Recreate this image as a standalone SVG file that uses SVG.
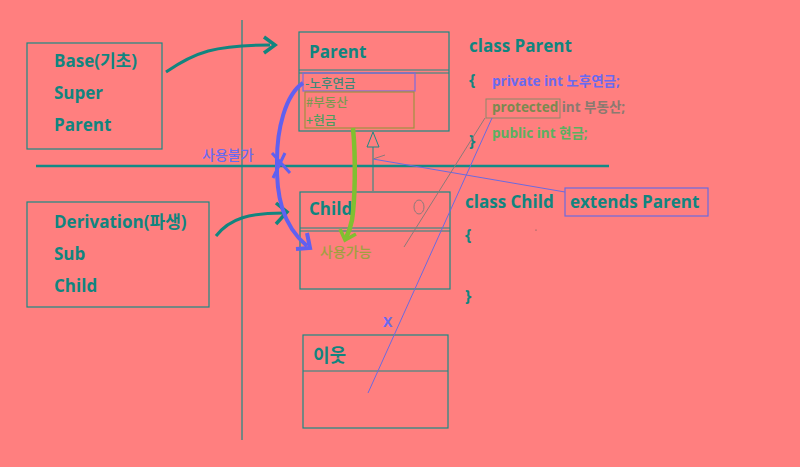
<svg xmlns="http://www.w3.org/2000/svg" width="800" height="467" viewBox="0 0 800 467">
<defs>
<style>
.t{font-family:"Open Sans","Noto Sans CJK KR",sans-serif;font-weight:bold;fill:#10857f}
.k{font-family:"Noto Sans CJK KR","Open Sans",sans-serif;font-weight:500}
.box{fill:none;stroke:#1a8a84;stroke-width:1.2}
.g{fill:none;stroke:#8a8a6a;stroke-width:1}
</style>
</defs>
<rect width="800" height="467" fill="#FF7F7F"/>
<g id="axes">
<line x1="242" y1="20" x2="242" y2="440" stroke="#1a8a84" stroke-width="1.2"/>
<line x1="36" y1="166" x2="609" y2="166" stroke="#138a86" stroke-width="2.5"/>
</g>
<g id="base">
<rect class="box" x="27" y="43" width="135" height="106"/>
<text class="t" x="54" y="67" font-size="17">Base(기초)</text>
<text class="t" x="54" y="99" font-size="17">Super</text>
<text class="t" x="54" y="131" font-size="17">Parent</text>
</g>
<g id="derivation">
<rect class="box" x="27" y="202" width="182" height="105"/>
<text class="t" x="54" y="228" font-size="17">Derivation(파생)</text>
<text class="t" x="54" y="260" font-size="17">Sub</text>
<text class="t" x="54" y="292" font-size="17">Child</text>
</g>
<g id="parent">
<rect class="box" x="299" y="32" width="150" height="99"/>
<line x1="299" y1="70" x2="449" y2="70" stroke="#1a8a84"/>
<line x1="299" y1="73" x2="449" y2="73" stroke="#1a8a84"/>
<text class="t" x="309" y="58" font-size="17">Parent</text>
<rect x="303" y="73" width="112" height="18" fill="none" stroke="#7a6ae0" stroke-width="1.2"/>
<text class="k" x="305" y="88" font-size="12.5" fill="#3a8a7a">-노후연금</text>
<rect x="305" y="92" width="109" height="36" fill="none" stroke="#a09040" stroke-width="1.2"/>
<text class="k" x="306" y="107" font-size="12.5" fill="#7a9a50">#부동산</text>
<text class="k" x="306" y="125" font-size="12.5" fill="#4aa060">+현금</text>
</g>
<g id="child">
<rect class="box" x="300" y="192" width="150" height="97"/>
<line x1="300" y1="228" x2="450" y2="228" stroke="#1a8a84"/>
<line x1="300" y1="231" x2="450" y2="231" stroke="#1a8a84"/>
<text class="t" x="309" y="215" font-size="17">Child</text>
<text class="k" x="320" y="257" font-size="14" fill="#a0a040">사용가능</text>
<ellipse cx="419" cy="207" rx="5" ry="7" fill="none" stroke="#8a7a7a" stroke-width="1"/>
</g>
<g id="neighbor">
<rect class="box" x="303" y="335" width="145" height="93"/>
<line x1="303" y1="371" x2="448" y2="371" stroke="#1a8a84"/>
<text x="313" y="362" font-family="Noto Sans CJK KR,sans-serif" font-size="18" fill="#10857f" font-weight="bold">이웃</text>
</g>
<g id="code-parent">
<text class="t" x="469" y="52" font-size="17">class Parent</text>
<text class="t" x="469" y="86" font-size="16">{</text>
<text class="t" x="492" y="86" font-size="13.5" style="fill:#6a6af0">private int 노후연금;</text>
<rect class="g" x="486" y="99" width="74" height="19"/>
<text class="t" x="492" y="112" font-size="13.5" style="fill:#7a8a50">protected <tspan style="fill:#8a7a70">int 부동산;</tspan></text>
<text class="t" x="492" y="138" font-size="13.5" style="fill:#5ab060">public int 현금;</text>
<text class="t" x="469" y="147" font-size="16">}</text>
</g>
<g id="code-child">
<text class="t" x="465" y="208" font-size="17">class Child</text>
<rect x="565" y="188" width="143" height="28" fill="none" stroke="#6a6ae0" stroke-width="1.2"/>
<text class="t" x="570" y="208" font-size="17">extends Parent</text>
<text class="t" x="465" y="241" font-size="16">{</text>
<text class="t" x="465" y="302" font-size="16">}</text>
<circle cx="536" cy="230" r="0.6" fill="#555"/>
</g>
<g id="connectors">
<path d="M166,72 C195,52 215,45 270,45" fill="none" stroke="#12857f" stroke-width="3"/>
<path d="M264,37 L275,45 L264,53" fill="none" stroke="#12857f" stroke-width="3.5"/>
<path d="M216,236 C230,218 250,213 284,213" fill="none" stroke="#12857f" stroke-width="3"/>
<path d="M276,203 L287,212 L276,224" fill="none" stroke="#12857f" stroke-width="3.5"/>
<path d="M303,83 C285,95 277,130 277,160 C276,195 282,225 307,246" fill="none" stroke="#6060f0" stroke-width="4"/>
<path d="M296,249 L310,248 L307,233" fill="none" stroke="#6060f0" stroke-width="4"/>
<path d="M272,153 L290,173 M285,153 L273,178" fill="none" stroke="#6060f0" stroke-width="3"/>
<text x="202" y="160" font-family="Noto Sans CJK KR,sans-serif" font-weight="500" font-size="14" fill="#6a6af0">사용불가</text>
<path d="M353,128 C356,160 355,200 352,220 C350,230 348,234 346,238" fill="none" stroke="#80c030" stroke-width="4.5"/>
<path d="M340,229 L345,240 L356,234" fill="none" stroke="#80c030" stroke-width="3.5"/>
<line x1="373" y1="147" x2="373" y2="191" stroke="#1a8a84" stroke-width="1"/>
<path d="M373,132 L367,147 L379,147 Z" fill="none" stroke="#1a8a84" stroke-width="1"/>
<line x1="373" y1="159" x2="565" y2="192" stroke="#6a6ae0" stroke-width="1"/>
<line x1="373" y1="159" x2="385" y2="155" stroke="#8a7a7a" stroke-width="1"/>
<line x1="485" y1="118" x2="404" y2="247" stroke="#8a7a7a" stroke-width="1"/>
<line x1="492" y1="118" x2="368" y2="393" stroke="#6a6ae0" stroke-width="1"/>
<text x="383" y="327" font-family="Open Sans,sans-serif" font-weight="bold" font-size="14" fill="#6a6af0">X</text>
</g>
</svg>
